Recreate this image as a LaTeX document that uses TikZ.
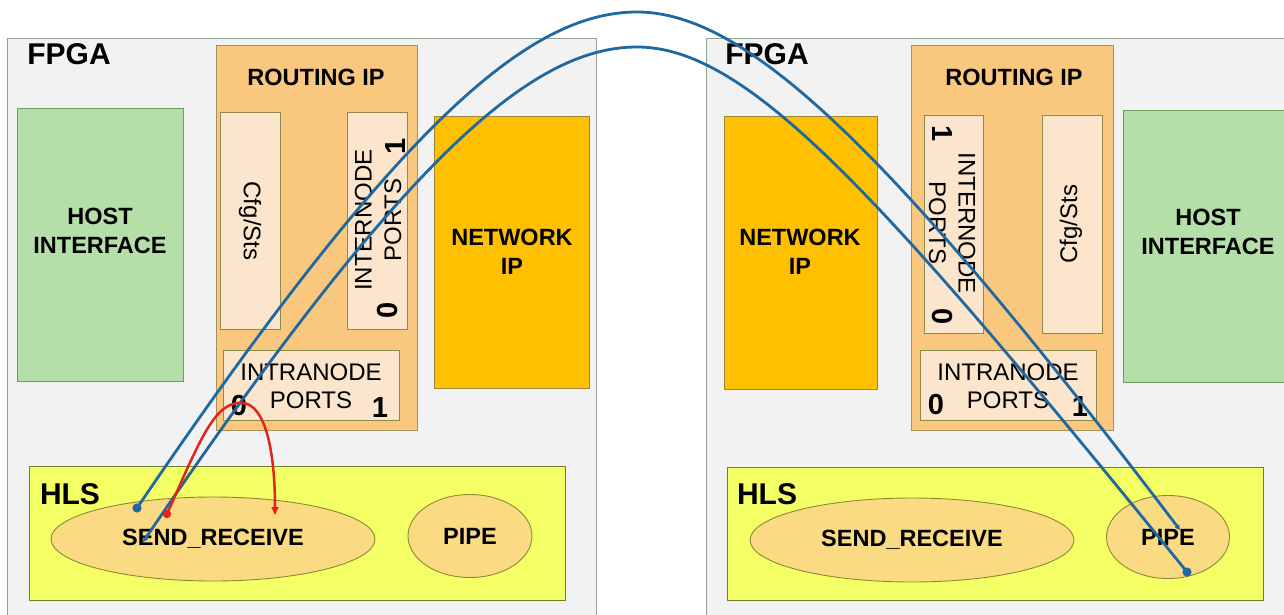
\documentclass[tikz,border=0pt]{standalone}
\usepackage{fontspec}
\setmainfont{Liberation Sans}
\usetikzlibrary{shapes.geometric,arrows.meta,fit}

\definecolor{fpgafill}{HTML}{F2F2F2}
\definecolor{fpgaline}{HTML}{93A393}
\definecolor{routefill}{HTML}{FAC77F}
\definecolor{routeline}{HTML}{A8925A}
\definecolor{portfill}{HTML}{FBE5CD}
\definecolor{portline}{HTML}{8E8A4C}
\definecolor{hostfill}{HTML}{B4DFA8}
\definecolor{hostline}{HTML}{6E9E5E}
\definecolor{netfill}{HTML}{FFC000}
\definecolor{netline}{HTML}{9C8A3C}
\definecolor{hlsfill}{HTML}{F4FF66}
\definecolor{hlsline}{HTML}{6E7F30}
\definecolor{ellfill}{HTML}{FADB84}
\definecolor{ellline}{HTML}{8A8A30}
\definecolor{linkblue}{HTML}{1F68A0}
\definecolor{linkred}{HTML}{E3241B}

\begin{document}
\begin{tikzpicture}[x=1pt,y=-1pt,
  blk/.style 2 args={fill=#1, draw=#2, line width=0.9pt, inner sep=0pt},
  ell/.style={ellipse, fill=ellfill, draw=ellline, line width=0.9pt, inner sep=0pt,
              font=\fontsize{23.5}{28}\selectfont\bfseries},
  title/.style={inner sep=0pt, font=\fontsize{30}{34}\selectfont\bfseries},
  head/.style={inner sep=0pt, align=center, font=\fontsize{23.5}{29}\selectfont\bfseries},
  plain/.style={inner sep=0pt, align=center, font=\fontsize{24}{29.5}\selectfont},
  digit/.style={inner sep=0pt, font=\fontsize{29}{32}\selectfont\bfseries},
  bluelink/.style={draw=linkblue, line width=2.8pt},
  redlink/.style={draw=linkred, line width=2.5pt},
]
\useasboundingbox (0,0) rectangle (1284,614);
\fill[white] (0,0) rectangle (1284,614);
\clip (0,0) rectangle (1284,614);

% ---------- left FPGA ----------
\node[blk={fpgafill}{fpgaline}, fit={(7,38) (596,640)}] (fpgaL) {};
\node[blk={routefill}{routeline}, fit={(216,45) (417,430)}] (routeL) {};
\node[blk={portfill}{portline}, fit={(220,112) (280,329)}] (cfgL) {};
\node[blk={portfill}{portline}, fit={(347,112) (407,329)}] (interL) {};
\node[blk={portfill}{portline}, fit={(223,350) (399,420)}] (intraL) {};
\node[blk={hostfill}{hostline}, fit={(17,108) (183,381)}] (hostL) {};
\node[blk={netfill}{netline}, fit={(434,116) (589,388)}] (netL) {};
\node[blk={hlsfill}{hlsline}, fit={(29,466) (565,600)}] (hlsL) {};
\node[ell, minimum width=324pt, minimum height=84pt] (srL) at (213,539) {SEND\_RECEIVE};
\node[ell, minimum width=124pt, minimum height=83pt] (pipeL) at (470,536) {PIPE};

\node[title] (fpgaLt) at (69,54) {FPGA};
\node[title] (hlsLt) at (70,494) {HLS};
\node[head] (routeLt) at (316,77) {ROUTING IP};
\node[head] (hostLt) at (100,231) {HOST\\INTERFACE};
\node[head] (netLt) at (512,252) {NETWORK\\IP};
\node[plain, rotate=-90] (cfgLt) at (250,221) {Cfg/Sts};
\node[plain, rotate=90] (interLt) at (378,220) {INTERNODE\\PORTS};
\node[digit, rotate=90] (interL1) at (396,146) {1};
\node[digit, rotate=90] (interL0) at (388,310) {0};
\node[plain, font=\fontsize{24}{28}\selectfont] (intraLt) at (311,386) {INTRANODE\\PORTS};
\node[digit] (intraL0) at (239,406) {0};
\node[digit] (intraL1) at (380,408) {1};

% ---------- right FPGA ----------
\node[blk={fpgafill}{fpgaline}, fit={(706,38) (1300,640)}] (fpgaR) {};
\node[blk={routefill}{routeline}, fit={(911,45) (1113,430)}] (routeR) {};
\node[blk={portfill}{portline}, fit={(1042,115) (1102,333)}] (cfgR) {};
\node[blk={portfill}{portline}, fit={(924,115) (983,333)}] (interR) {};
\node[blk={portfill}{portline}, fit={(920,350) (1096,420)}] (intraR) {};
\node[blk={hostfill}{hostline}, fit={(1123,110) (1289,382)}] (hostR) {};
\node[blk={netfill}{netline}, fit={(724,116) (877,389)}] (netR) {};
\node[blk={hlsfill}{hlsline}, fit={(727,467) (1263,600)}] (hlsR) {};
\node[ell, minimum width=324pt, minimum height=84pt] (srR) at (912,540) {SEND\_RECEIVE};
\node[ell, minimum width=123pt, minimum height=83pt] (pipeR) at (1168,537) {PIPE};

\node[title] (fpgaRt) at (767,54) {FPGA};
\node[title] (hlsRt) at (767,494) {HLS};
\node[head] (routeRt) at (1014,77) {ROUTING IP};
\node[head] (hostRt) at (1208,232) {HOST\\INTERFACE};
\node[head] (netRt) at (800,252) {NETWORK\\IP};
\node[plain, rotate=90] (cfgRt) at (1071,224) {Cfg/Sts};
\node[plain, rotate=-90] (interRt) at (952,223) {INTERNODE\\PORTS};
\node[digit, rotate=-90] (interR1) at (942,134) {1};
\node[digit, rotate=-90] (interR0) at (942,317) {0};
\node[plain, font=\fontsize{24}{28}\selectfont] (intraRt) at (1008,386) {INTRANODE\\PORTS};
\node[digit] (intraR0) at (936,405) {0};
\node[digit] (intraR1) at (1080,407) {1};

% ---------- link end points ----------
\coordinate (aS) at (137,508);
\coordinate (aTop) at (637,12);
\coordinate (aE) at (1180,530);
\coordinate (bS) at (143,542);
\coordinate (bTop) at (637,47);
\coordinate (bE) at (1187,572);
\coordinate (rS) at (167,514);
\coordinate (rTop) at (243,403);
\coordinate (rE) at (275,515);

% internode link, left send to right pipe
\draw[bluelink, -{Triangle[length=5pt,width=5pt]}]
  (aS) .. controls (395,128) and (527,12) .. (aTop)
       .. controls (747,12) and (891,150) .. (aE);
\fill[linkblue] (aS) circle (4.6);

% internode link, right pipe back to left receive
\draw[bluelink, {Triangle[length=5pt,width=5pt]}-]
  (bS) .. controls (401,162) and (530,47) .. (bTop)
       .. controls (747,47) and (879,192) .. (bE);
\fill[linkblue] (bE) circle (4.6);

% intranode loopback through port 0
\draw[redlink, -{Triangle[length=8pt,width=7pt]}]
  (rS) .. controls (200,440) and (215,400) .. (rTop)
       .. controls (265,405) and (275,450) .. (rE);
\fill[linkred] (rS) circle (4.2);
\end{tikzpicture}
\end{document}
